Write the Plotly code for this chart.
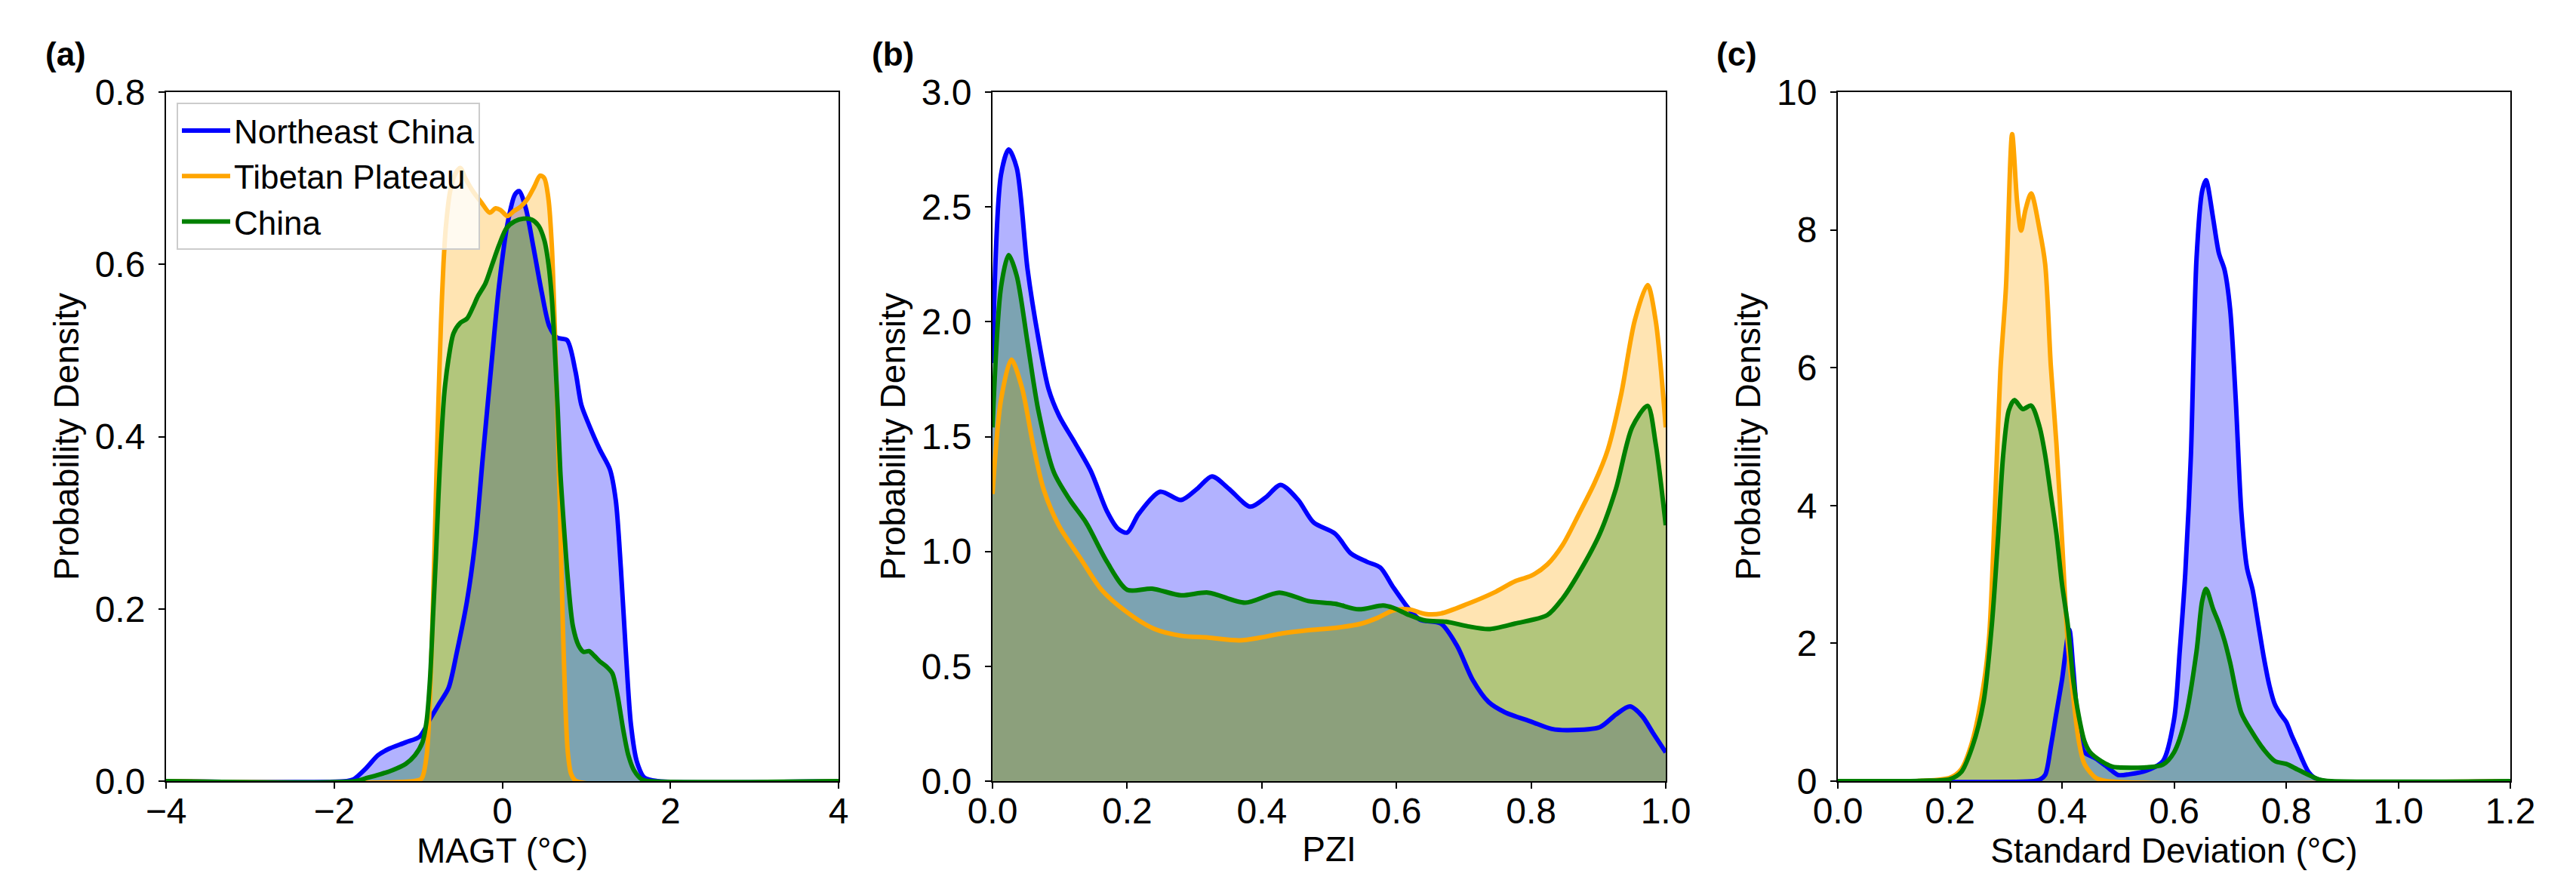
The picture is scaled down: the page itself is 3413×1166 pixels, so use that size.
import plotly.graph_objects as go

# ---------------- data ----------------
series_names = ["Northeast China", "Tibetan Plateau", "China"]
series_colors = ["#0000ff", "#ffa500", "#008000"]
series_fills = ["rgba(0,0,255,0.3)", "rgba(255,165,0,0.3)", "rgba(0,128,0,0.3)"]

# Panel (a): MAGT
a_ne_x = [-4.0, -1.85, -1.77, -1.62, -1.48, -1.36, -1.15, -0.98, -0.86, -0.75, -0.64, -0.54, -0.42, -0.32, -0.23,
          -0.13, -0.04, 0.06, 0.15, 0.2, 0.28, 0.37, 0.47, 0.56, 0.65, 0.77, 0.87, 0.94, 1.03, 1.16, 1.28, 1.35,
          1.41, 1.47, 1.53, 1.6, 1.69, 1.85, 4.0]
a_ne_y = [0, 0, 0.002, 0.015, 0.03, 0.037, 0.045, 0.052, 0.072, 0.09, 0.108, 0.15, 0.209, 0.28, 0.378,
          0.483, 0.574, 0.646, 0.681, 0.685, 0.665, 0.62, 0.567, 0.528, 0.515, 0.512, 0.476, 0.437, 0.414, 0.385,
          0.362, 0.326, 0.248, 0.15, 0.066, 0.023, 0.004, 0, 0]
a_tp_x = [-4.0, -1.05, -0.96, -0.9, -0.86, -0.82, -0.79, -0.76, -0.73, -0.7, -0.67, -0.62, -0.56, -0.5, -0.44,
          -0.35, -0.25, -0.15, -0.08, -0.02, 0.06, 0.14, 0.22, 0.3, 0.38, 0.45, 0.5, 0.55, 0.59, 0.62, 0.65, 0.69,
          0.72, 0.75, 0.78, 0.82, 0.88, 4.0]
a_tp_y = [0, 0, 0.003, 0.03, 0.098, 0.22, 0.33, 0.44, 0.53, 0.6, 0.645, 0.685, 0.705, 0.712, 0.7,
          0.685, 0.672, 0.66, 0.665, 0.663, 0.656, 0.662, 0.667, 0.676, 0.69, 0.703, 0.7, 0.675, 0.62, 0.54, 0.444,
          0.3, 0.183, 0.09, 0.033, 0.008, 0, 0]
a_cn_x = [-4.0, -1.75, -1.6, -1.45, -1.3, -1.15, -1.04, -0.95, -0.9, -0.86, -0.82, -0.79, -0.76, -0.73, -0.69,
          -0.64, -0.58, -0.5, -0.42, -0.35, -0.29, -0.2, -0.12, -0.04, 0.05, 0.15, 0.25, 0.35, 0.43, 0.5, 0.55,
          0.59, 0.62, 0.66, 0.69, 0.73, 0.78, 0.84, 0.91, 0.97, 1.03, 1.1, 1.16, 1.24, 1.31, 1.37, 1.44, 1.5,
          1.57, 1.66, 1.75, 4.0]
a_cn_y = [0, 0, 0.004, 0.008, 0.013, 0.02, 0.03, 0.045, 0.07, 0.118, 0.2, 0.26, 0.33, 0.39, 0.45,
          0.49, 0.52, 0.532, 0.537, 0.55, 0.563, 0.578, 0.6, 0.622, 0.642, 0.65, 0.653, 0.652, 0.645, 0.628, 0.6,
          0.56, 0.51, 0.43, 0.36, 0.3, 0.235, 0.18, 0.157, 0.15, 0.151, 0.145, 0.139, 0.133, 0.125, 0.1, 0.059,
          0.03, 0.012, 0.002, 0, 0]

# Panel (b): PZI
b_ne_x = [0.0, 0.0126, 0.024, 0.036, 0.052, 0.068, 0.083, 0.099, 0.123, 0.146, 0.17, 0.186, 0.2, 0.217, 0.249,
          0.28, 0.304, 0.326, 0.351, 0.383, 0.406, 0.428, 0.454, 0.477, 0.509, 0.532, 0.556, 0.576, 0.595, 0.619,
          0.635, 0.666, 0.69, 0.713, 0.737, 0.761, 0.8, 0.831, 0.855, 0.902, 0.926, 0.947, 0.965, 0.981, 1.0]
b_ne_y = [1.82, 2.64, 2.75, 2.67, 2.23, 1.93, 1.71, 1.59, 1.47, 1.35, 1.175, 1.10, 1.082, 1.163, 1.26,
          1.224, 1.273, 1.327, 1.273, 1.195, 1.236, 1.29, 1.224, 1.126, 1.077, 0.992, 0.955, 0.93, 0.845, 0.748,
          0.703, 0.686, 0.589, 0.442, 0.344, 0.30, 0.259, 0.227, 0.222, 0.235, 0.29, 0.325, 0.283, 0.21, 0.125]
b_tp_x = [0.0, 0.0126, 0.028, 0.044, 0.06, 0.076, 0.099, 0.131, 0.162, 0.2, 0.241, 0.28, 0.32, 0.367, 0.398,
          0.43, 0.469, 0.509, 0.548, 0.572, 0.595, 0.619, 0.643, 0.666, 0.706, 0.745, 0.776, 0.8, 0.824, 0.847,
          0.871, 0.894, 0.914, 0.934, 0.954, 0.973, 0.985, 1.0]
b_tp_y = [1.25, 1.66, 1.835, 1.71, 1.47, 1.27, 1.11, 0.968, 0.833, 0.735, 0.662, 0.633, 0.625, 0.613, 0.625,
          0.643, 0.657, 0.667, 0.686, 0.711, 0.743, 0.748, 0.728, 0.73, 0.772, 0.821, 0.87, 0.894, 0.943, 1.029,
          1.163, 1.297, 1.444, 1.688, 2.006, 2.16, 2.006, 1.54]
b_cn_x = [0.0, 0.0126, 0.024, 0.036, 0.052, 0.068, 0.091, 0.115, 0.139, 0.17, 0.2, 0.237, 0.28, 0.32, 0.375,
          0.426, 0.469, 0.509, 0.544, 0.58, 0.595, 0.619, 0.643, 0.674, 0.706, 0.737, 0.776, 0.824, 0.847, 0.871,
          0.902, 0.926, 0.95, 0.973, 0.985, 1.0]
b_cn_y = [1.54, 2.15, 2.29, 2.2, 1.91, 1.615, 1.346, 1.224, 1.126, 0.955, 0.833, 0.838, 0.809, 0.821, 0.777,
          0.821, 0.784, 0.772, 0.748, 0.765, 0.755, 0.723, 0.699, 0.694, 0.674, 0.662, 0.686, 0.723, 0.796, 0.906,
          1.077, 1.273, 1.54, 1.634, 1.47, 1.114]

# Panel (c): Standard deviation
c_ne_x = [0.0, 0.35, 0.36, 0.37, 0.38, 0.39, 0.40, 0.413, 0.42, 0.43, 0.44, 0.46, 0.48, 0.50, 0.52, 0.55, 0.58,
          0.60, 0.61, 0.62, 0.63, 0.64, 0.65, 0.657, 0.66, 0.67, 0.68, 0.69, 0.70, 0.71, 0.72, 0.73, 0.74, 0.75,
          0.76, 0.77, 0.78, 0.79, 0.80, 0.81, 0.82, 0.83, 0.84, 0.85, 0.87, 1.2]
c_ne_y = [0, 0, 0.02, 0.09, 0.5, 0.99, 1.47, 2.2, 1.64, 0.74, 0.42, 0.33, 0.21, 0.09, 0.1, 0.15, 0.29,
          0.9, 1.88, 3.02, 4.73, 7.58, 8.56, 8.72, 8.65, 8.15, 7.66, 7.42, 6.85, 5.54, 3.91, 3.1, 2.78, 2.29,
          1.8, 1.39, 1.11, 0.97, 0.86, 0.66, 0.48, 0.29, 0.13, 0.05, 0, 0]
c_tp_x = [0.0, 0.15, 0.2, 0.22, 0.24, 0.26, 0.27, 0.28, 0.29, 0.30, 0.311, 0.32, 0.327, 0.335, 0.345, 0.36,
          0.37, 0.38, 0.39, 0.40, 0.41, 0.42, 0.43, 0.44, 0.46, 0.48, 1.2]
c_tp_y = [0, 0.005, 0.05, 0.17, 0.58, 1.39, 2.1, 3.9, 5.95, 7.17, 9.39, 8.4, 7.99, 8.3, 8.53, 8.0,
          7.5, 6.03, 4.9, 3.51, 2.04, 1.23, 0.58, 0.25, 0.05, 0, 0]
c_cn_x = [0.0, 0.15, 0.2, 0.22, 0.24, 0.26, 0.275, 0.285, 0.295, 0.305, 0.315, 0.33, 0.345, 0.36, 0.37, 0.38,
          0.39, 0.40, 0.41, 0.42, 0.43, 0.44, 0.45, 0.47, 0.49, 0.50, 0.55, 0.58, 0.60, 0.62, 0.64, 0.65, 0.657,
          0.67, 0.68, 0.69, 0.70, 0.72, 0.74, 0.76, 0.78, 0.80, 0.82, 0.84, 0.86, 0.88, 1.2]
c_cn_y = [0, 0.005, 0.03, 0.13, 0.5, 1.15, 2.29, 3.43, 4.73, 5.38, 5.53, 5.4, 5.45, 5.14, 4.73, 4.16,
          3.59, 2.86, 2.29, 1.47, 0.94, 0.58, 0.42, 0.29, 0.21, 0.2, 0.2, 0.24, 0.42, 0.9, 1.88, 2.61, 2.79,
          2.49, 2.29, 2.04, 1.72, 0.99, 0.70, 0.46, 0.29, 0.25, 0.17, 0.09, 0.02, 0, 0]

panel_labels = ["(a)", "(b)", "(c)"]
x_titles = ["MAGT (°C)", "PZI", "Standard Deviation (°C)"]
y_title = "Probability Density"
x_ranges = [[-4, 4], [0, 1], [0, 1.2]]
y_ranges = [[0, 0.8], [0, 3.0], [0, 10]]
x_ticks = [[-4, -2, 0, 2, 4], [0, 0.2, 0.4, 0.6, 0.8, 1.0], [0, 0.2, 0.4, 0.6, 0.8, 1.0, 1.2]]
x_tickfmt = ["d", ".1f", ".1f"]
y_ticks = [[0, 0.2, 0.4, 0.6, 0.8], [0, 0.5, 1.0, 1.5, 2.0, 2.5, 3.0], [0, 2, 4, 6, 8, 10]]
y_tickfmt = [".1f", ".1f", "d"]

panels = [
    [(a_ne_x, a_ne_y), (a_tp_x, a_tp_y), (a_cn_x, a_cn_y)],
    [(b_ne_x, b_ne_y), (b_tp_x, b_tp_y), (b_cn_x, b_cn_y)],
    [(c_ne_x, c_ne_y), (c_tp_x, c_tp_y), (c_cn_x, c_cn_y)],
]

# ---------------- layout geometry ----------------
W, H = 3413, 1166
x_domains = [[212 / W, 1103 / W], [1307 / W, 2199 / W], [2427 / W, 3318 / W]]
y_domain = [1 - 1027 / H, 1 - 114 / H]
label_x = [50 / W, 1145 / W, 2264 / W]
FONT = "Liberation Sans, Arial, sans-serif"

fig = go.Figure()
# fills first (in series order), then lines on top
for p, data in enumerate(panels):
    xa = "x" if p == 0 else f"x{p + 1}"
    ya = "y" if p == 0 else f"y{p + 1}"
    for s, (xs, ys) in enumerate(data):
        fig.add_trace(go.Scatter(
            x=xs, y=ys, xaxis=xa, yaxis=ya, mode="lines", fill="tozeroy",
            fillcolor=series_fills[s], line=dict(width=0, shape="spline", smoothing=0.8),
            showlegend=False, hoverinfo="skip"))
for p, data in enumerate(panels):
    xa = "x" if p == 0 else f"x{p + 1}"
    ya = "y" if p == 0 else f"y{p + 1}"
    for s, (xs, ys) in enumerate(data):
        fig.add_trace(go.Scatter(
            x=xs, y=ys, xaxis=xa, yaxis=ya, mode="lines", name=series_names[s],
            line=dict(color=series_colors[s], width=6, shape="spline", smoothing=0.8),
            legendgroup=series_names[s], showlegend=(p == 0)))

axis_common = dict(showgrid=False, zeroline=False, showline=True, linecolor="black", linewidth=2,
                   mirror=True, ticks="outside", ticklen=8, tickwidth=2, tickcolor="black",
                   tickfont=dict(size=48, color="black", family=FONT), automargin=False)

layout = dict(width=W, height=H, margin=dict(l=0, r=0, t=0, b=0),
              paper_bgcolor="white", plot_bgcolor="white",
              font=dict(family=FONT, color="black"))
annotations = []
for p in range(3):
    sx = "" if p == 0 else str(p + 1)
    layout[f"xaxis{sx}"] = dict(axis_common, domain=x_domains[p], anchor=f"y{sx}", range=x_ranges[p],
                                tickvals=x_ticks[p], tickformat=x_tickfmt[p], ticklabelstandoff=-12,
                                title=dict(text=x_titles[p], font=dict(size=46, family=FONT), standoff=9))
    layout[f"yaxis{sx}"] = dict(axis_common, domain=y_domain, anchor=f"x{sx}", range=y_ranges[p],
                                tickvals=y_ticks[p], tickformat=y_tickfmt[p], ticklabelstandoff=8,
                                title=dict(text=y_title, font=dict(size=46, family=FONT), standoff=7))
    annotations.append(dict(text=f"<b>{panel_labels[p]}</b>", x=label_x[p], y=1 - 63 / H, xref="paper",
                            yref="paper", xanchor="left", yanchor="middle", showarrow=False,
                            font=dict(size=44, family=FONT, color="black")))
layout["annotations"] = annotations
layout["legend"] = dict(x=226 / W, y=1 - 128 / H, xanchor="left", yanchor="top",
                        bgcolor="rgba(255,255,255,0.8)", bordercolor="#cccccc", borderwidth=2,
                        font=dict(size=44, family=FONT, color="black"), tracegroupgap=0,
                        itemwidth=64)
fig.update_layout(**layout)
fig.write_html("out.html")
